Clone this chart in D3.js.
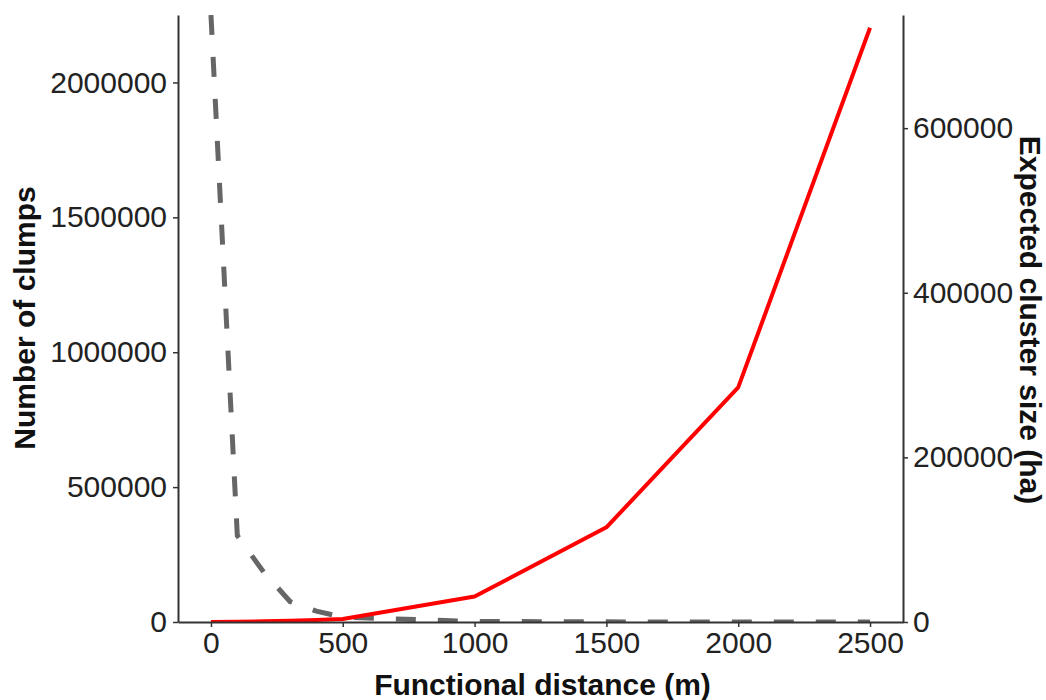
<!DOCTYPE html>
<html>
<head>
<meta charset="utf-8">
<script src="https://cdn.jsdelivr.net/npm/d3@7"></script>
<style>
  body { margin: 0; background: #fff; }
  text { font-family: "Liberation Sans", Arial, sans-serif; }
</style>
</head>
<body>
<div id="chart"></div>
<script>
// functional distance (m)
var distances = [0, 100, 200, 300, 400, 500, 1000, 1500, 2000, 2500];
// number of clumps (left axis)
var clumps = [2250000, 320000, 185000, 76000, 40000, 18000, 2000, 500, 200, 100];
// expected cluster size in ha (right axis)
var clusterSize = [0, 400, 900, 1600, 2500, 3600, 31000, 115000, 285000, 722000];

var xTicks = [0, 500, 1000, 1500, 2000, 2500];
var leftTicks = [0, 500000, 1000000, 1500000, 2000000];
var rightTicks = [0, 200000, 400000, 600000];

var width = 1046, height = 700;
var panelLeft = 178, panelRight = 903, panelTop = 15, panelBottom = 622;
var fontSize = '30px';

var svg = d3.select('#chart')
  .append('svg')
  .attr('width', width)
  .attr('height', height);

var x = d3.scaleLinear().domain([-125, 2625]).range([panelLeft, panelRight]);
var yLeft = d3.scaleLinear().domain([0, 2250000]).range([panelBottom, panelTop]);
var yRight = d3.scaleLinear().domain([0, 737500]).range([panelBottom, panelTop]);

svg.append('clipPath').attr('id', 'panel')
  .append('rect')
  .attr('x', panelLeft).attr('y', panelTop)
  .attr('width', panelRight - panelLeft).attr('height', panelBottom - panelTop);

var plot = svg.append('g').attr('clip-path', 'url(#panel)');

var rows = distances.map(function(d, i) {
  return { dist: d, clumps: clumps[i], size: clusterSize[i] };
});

plot.append('path')
  .datum(rows)
  .attr('fill', 'none')
  .attr('stroke', '#666')
  .attr('stroke-width', 5)
  .attr('stroke-dasharray', '20,22')
  .attr('d', d3.line()
    .x(function(d) { return x(d.dist); })
    .y(function(d) { return yLeft(d.clumps); }));

plot.append('path')
  .datum(rows)
  .attr('fill', 'none')
  .attr('stroke', '#f00')
  .attr('stroke-width', 4)
  .attr('stroke-linejoin', 'round')
  .attr('d', d3.line()
    .x(function(d) { return x(d.dist); })
    .y(function(d) { return yRight(d.size); }));

function styleAxis(g) {
  g.select('.domain').attr('stroke', '#333').attr('stroke-width', 2);
  g.selectAll('.tick line').attr('stroke', '#333').attr('stroke-width', 1.5);
  g.selectAll('.tick text')
    .attr('fill', '#222')
    .style('font-size', fontSize)
    .style('font-family', '"Liberation Sans", Arial, sans-serif');
}

svg.append('g')
  .attr('transform', 'translate(0,' + panelBottom + ')')
  .call(d3.axisBottom(x).tickValues(xTicks).tickFormat(d3.format('d')).tickSize(5).tickPadding(5).tickSizeOuter(0))
  .call(styleAxis);

svg.append('g')
  .attr('transform', 'translate(' + panelLeft + ',0)')
  .call(d3.axisLeft(yLeft).tickValues(leftTicks).tickFormat(d3.format('d')).tickSize(5).tickPadding(6).tickSizeOuter(0))
  .call(styleAxis);

svg.append('g')
  .attr('transform', 'translate(' + panelRight + ',0)')
  .call(d3.axisRight(yRight).tickValues(rightTicks).tickFormat(d3.format('d')).tickSize(5).tickPadding(5).tickSizeOuter(0))
  .call(styleAxis);

svg.append('text')
  .attr('x', (panelLeft + panelRight) / 2 + 2)
  .attr('y', 695)
  .attr('text-anchor', 'middle')
  .style('font-size', fontSize)
  .style('font-weight', 'bold')
  .attr('fill', '#111')
  .text('Functional distance (m)');

svg.append('text')
  .attr('transform', 'translate(35,318) rotate(-90)')
  .attr('text-anchor', 'middle')
  .style('font-size', fontSize)
  .style('font-weight', 'bold')
  .attr('fill', '#111')
  .text('Number of clumps');

svg.append('text')
  .attr('transform', 'translate(1020,320) rotate(90)')
  .attr('text-anchor', 'middle')
  .style('font-size', fontSize)
  .style('font-weight', 'bold')
  .attr('fill', '#111')
  .text('Expected cluster size (ha)');
</script>
</body>
</html>
